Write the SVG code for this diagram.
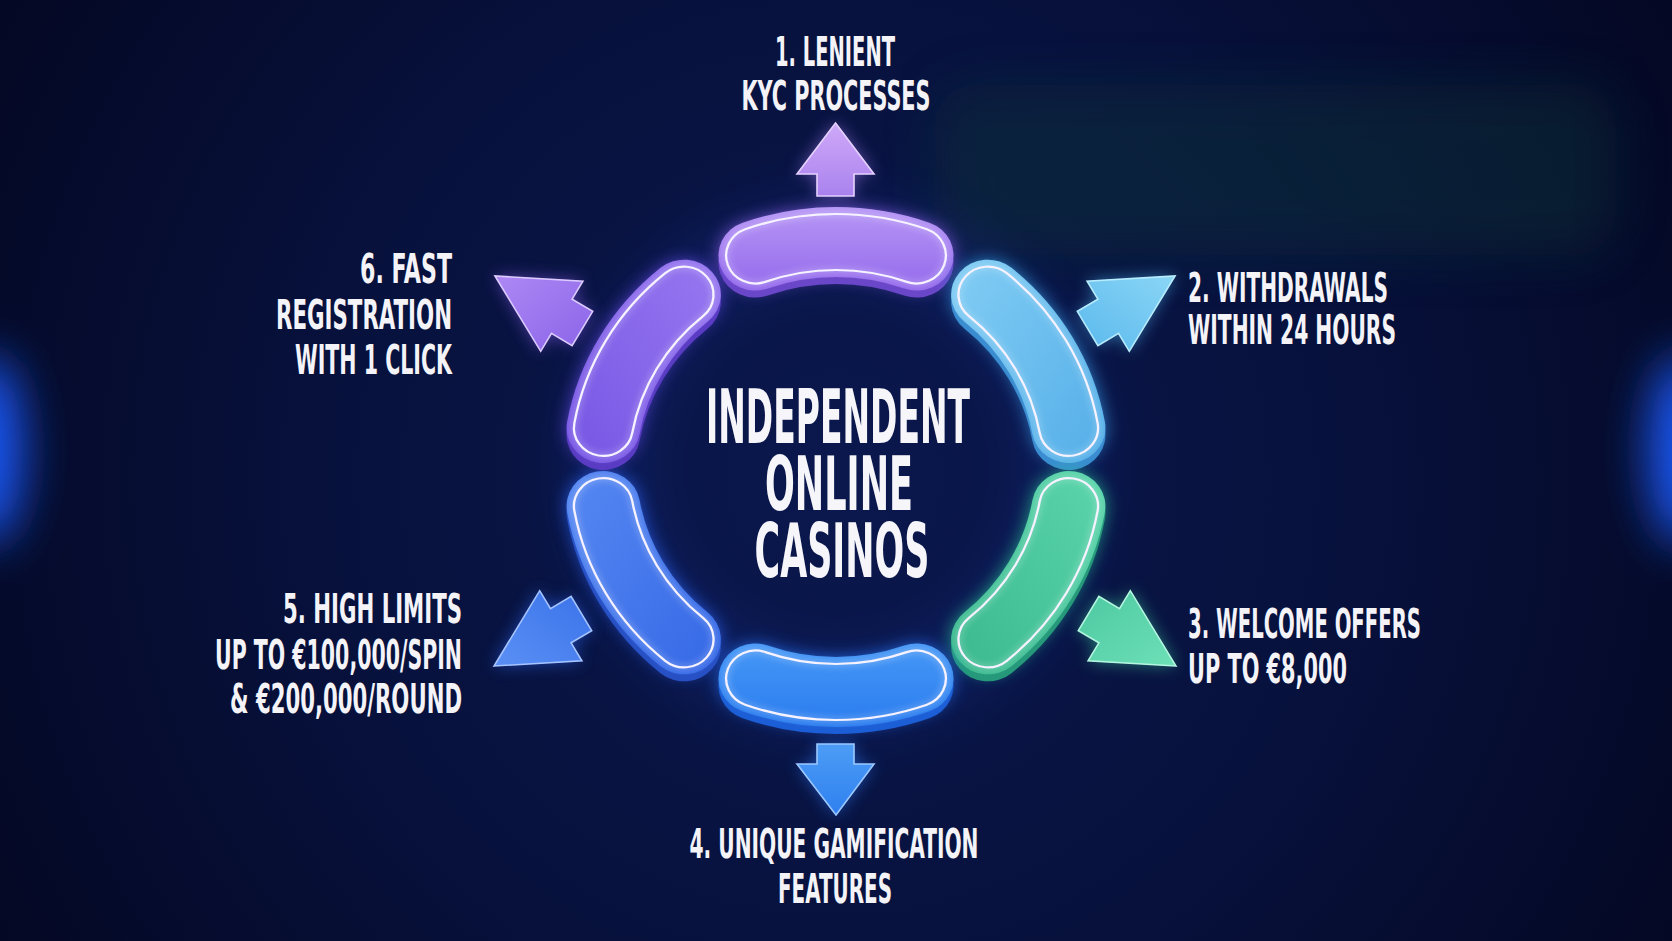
<svg xmlns="http://www.w3.org/2000/svg" xmlns:xlink="http://www.w3.org/1999/xlink" width="1672" height="941" viewBox="0 0 1672 941">
  <style>
    .lbl { font-family: "Liberation Sans Narrow", "DejaVu Sans Condensed", "Liberation Sans", sans-serif; font-weight: bold; fill: #f3f3f8; font-size: 40px; }
    .title { font-family: "Liberation Sans Narrow", "DejaVu Sans Condensed", "Liberation Sans", sans-serif; font-weight: bold; fill: #f5f5fa; font-size: 75px; }
    .edge { fill: none; stroke: #f6f2ff; stroke-width: 2.2; }
    .edgeglow { fill: none; stroke: #ffffff; stroke-width: 6; opacity: 0.22; }
    .arrow { stroke-width: 1.6; stroke-linejoin: miter; }
  </style>
  <defs>
    <radialGradient id="bg" cx="836" cy="480" r="950" gradientUnits="userSpaceOnUse">
      <stop offset="0" stop-color="#0b184e"/>
      <stop offset="0.55" stop-color="#07113c"/>
      <stop offset="1" stop-color="#040824"/>
    </radialGradient>
    <filter id="blur" x="-40%" y="-40%" width="180%" height="180%"><feGaussianBlur stdDeviation="8"/></filter>
    <filter id="blurS" x="-40%" y="-40%" width="180%" height="180%"><feGaussianBlur stdDeviation="3"/></filter>
    <filter id="blurL" x="-100%" y="-100%" width="300%" height="300%"><feGaussianBlur stdDeviation="24"/></filter>
    <filter id="blurP" x="-30%" y="-80%" width="160%" height="260%"><feGaussianBlur stdDeviation="26"/></filter>

    <linearGradient id="g1" x1="0" y1="0" x2="0" y2="1"><stop offset="0" stop-color="#b696f5"/><stop offset="1" stop-color="#946aec"/></linearGradient>
    <linearGradient id="g2" x1="0" y1="0" x2="1" y2="1"><stop offset="0" stop-color="#82cdf4"/><stop offset="1" stop-color="#54aee8"/></linearGradient>
    <linearGradient id="g3" x1="1" y1="0" x2="0" y2="1"><stop offset="0" stop-color="#5cd6ac"/><stop offset="1" stop-color="#3ab88e"/></linearGradient>
    <linearGradient id="g4" x1="0" y1="0" x2="0" y2="1"><stop offset="0" stop-color="#4798f6"/><stop offset="1" stop-color="#2a7cef"/></linearGradient>
    <linearGradient id="g5" x1="0" y1="0" x2="1" y2="1"><stop offset="0" stop-color="#5688f2"/><stop offset="1" stop-color="#3568e6"/></linearGradient>
    <linearGradient id="g6" x1="1" y1="0" x2="0" y2="1"><stop offset="0" stop-color="#9878f0"/><stop offset="1" stop-color="#7656e4"/></linearGradient>

    <linearGradient id="a1" x1="0" y1="0" x2="0" y2="1"><stop offset="0" stop-color="#cfa9f8"/><stop offset="1" stop-color="#a982ee"/></linearGradient>
    <linearGradient id="a2" x1="1" y1="0" x2="0" y2="1"><stop offset="0" stop-color="#8ad6f6"/><stop offset="1" stop-color="#5ab8ec"/></linearGradient>
    <linearGradient id="a3" x1="1" y1="1" x2="0" y2="0"><stop offset="0" stop-color="#6ee0b8"/><stop offset="1" stop-color="#4cc8a0"/></linearGradient>
    <linearGradient id="a4" x1="0" y1="0" x2="0" y2="1"><stop offset="0" stop-color="#4c9cf6"/><stop offset="1" stop-color="#2f80ef"/></linearGradient>
    <linearGradient id="a5" x1="0" y1="1" x2="1" y2="0"><stop offset="0" stop-color="#5a90f4"/><stop offset="1" stop-color="#3a72ea"/></linearGradient>
    <linearGradient id="a6" x1="0" y1="0" x2="1" y2="1"><stop offset="0" stop-color="#ad88f4"/><stop offset="1" stop-color="#8a64e8"/></linearGradient>

    <path id="p1" d="M-88.93,-244.32 A260,260 0 0 1 88.93,-244.32 A35,35 0 0 1 64.98,-178.54 A190,190 0 0 0 -64.98,-178.54 A35,35 0 0 1 -88.93,-244.32Z"/>
    <path id="w1" d="M-86.53,-237.74 A253,253 0 0 1 86.53,-237.74 A28,28 0 0 1 67.38,-185.12 A197,197 0 0 0 -67.38,-185.12 A28,28 0 0 1 -86.53,-237.74Z"/>
    <path id="p2" d="M167.13,-199.17 A260,260 0 0 1 256.05,-45.15 A35,35 0 0 1 187.11,-32.99 A190,190 0 0 0 122.13,-145.55 A35,35 0 0 1 167.13,-199.17Z"/>
    <path id="w2" d="M162.63,-193.81 A253,253 0 0 1 249.16,-43.93 A28,28 0 0 1 194.01,-34.21 A197,197 0 0 0 126.63,-150.91 A28,28 0 0 1 162.63,-193.81Z"/>
    <path id="p3" d="M256.05,45.15 A260,260 0 0 1 167.13,199.17 A35,35 0 0 1 122.13,145.55 A190,190 0 0 0 187.11,32.99 A35,35 0 0 1 256.05,45.15Z"/>
    <path id="w3" d="M249.16,43.93 A253,253 0 0 1 162.63,193.81 A28,28 0 0 1 126.63,150.91 A197,197 0 0 0 194.01,34.21 A28,28 0 0 1 249.16,43.93Z"/>
    <path id="p4" d="M88.93,244.32 A260,260 0 0 1 -88.93,244.32 A35,35 0 0 1 -64.98,178.54 A190,190 0 0 0 64.98,178.54 A35,35 0 0 1 88.93,244.32Z"/>
    <path id="w4" d="M86.53,237.74 A253,253 0 0 1 -86.53,237.74 A28,28 0 0 1 -67.38,185.12 A197,197 0 0 0 67.38,185.12 A28,28 0 0 1 86.53,237.74Z"/>
    <path id="p5" d="M-167.13,199.17 A260,260 0 0 1 -256.05,45.15 A35,35 0 0 1 -187.11,32.99 A190,190 0 0 0 -122.13,145.55 A35,35 0 0 1 -167.13,199.17Z"/>
    <path id="w5" d="M-162.63,193.81 A253,253 0 0 1 -249.16,43.93 A28,28 0 0 1 -194.01,34.21 A197,197 0 0 0 -126.63,150.91 A28,28 0 0 1 -162.63,193.81Z"/>
    <path id="p6" d="M-256.05,-45.15 A260,260 0 0 1 -167.13,-199.17 A35,35 0 0 1 -122.13,-145.55 A190,190 0 0 0 -187.11,-32.99 A35,35 0 0 1 -256.05,-45.15Z"/>
    <path id="w6" d="M-249.16,-43.93 A253,253 0 0 1 -162.63,-193.81 A28,28 0 0 1 -126.63,-150.91 A197,197 0 0 0 -194.01,-34.21 A28,28 0 0 1 -249.16,-43.93Z"/>
  </defs>

  <!-- background -->
  <rect x="0" y="0" width="1672" height="941" fill="url(#bg)"/>
  <rect x="935" y="85" width="680" height="170" rx="40" fill="#0a3438" opacity="0.42" filter="url(#blurP)"/>
  <ellipse cx="-12" cy="450" rx="34" ry="95" fill="#1e5cff" filter="url(#blurL)"/>
  <ellipse cx="1684" cy="450" rx="34" ry="95" fill="#1e5cff" filter="url(#blurL)"/>

  <!-- ring glow -->
  <circle cx="836" cy="467" r="225" fill="none" stroke="#2a50e0" stroke-width="90" opacity="0.12" filter="url(#blurL)"/>

  <!-- connectors (arrows) -->
  <g id="connectors">
    <polygon points="835.5,123 874,174 854,174 854,196 817,196 817,174 797,174" fill="#a27af0" opacity="0.55" filter="url(#blur)"/>
    <polygon class="arrow" points="835.5,123 874,174 854,174 854,196 817,196 817,174 797,174" fill="url(#a1)" stroke="#e6d2ff"/>

    <polygon points="1175,276 1129.3,351.3 1118.5,333.3 1097.9,345.6 1077.3,311.4 1097.9,299.1 1087.1,281.1" fill="#4fb4f0" opacity="0.55" filter="url(#blur)"/>
    <polygon class="arrow" points="1175,276 1129.3,351.3 1118.5,333.3 1097.9,345.6 1077.3,311.4 1097.9,299.1 1087.1,281.1" fill="url(#a2)" stroke="#b8ecff"/>

    <polygon points="1176,666 1088.1,660.9 1098.9,642.9 1078.3,630.6 1098.9,596.4 1119.5,608.7 1130.3,590.7" fill="#3fd0a0" opacity="0.55" filter="url(#blur)"/>
    <polygon class="arrow" points="1176,666 1088.1,660.9 1098.9,642.9 1078.3,630.6 1098.9,596.4 1119.5,608.7 1130.3,590.7" fill="url(#a3)" stroke="#b4f6e0"/>

    <polygon points="836,815 874,764 854,764 854,744 817,744 817,764 797,764" fill="#2a7cff" opacity="0.55" filter="url(#blur)"/>
    <polygon class="arrow" points="836,815 874,764 854,764 854,744 817,744 817,764 797,764" fill="url(#a4)" stroke="#9cc8ff"/>

    <polygon points="494,666 581.9,660.9 571.1,642.9 591.7,630.6 571.1,596.4 550.5,608.7 539.7,590.7" fill="#2f6cff" opacity="0.55" filter="url(#blur)"/>
    <polygon class="arrow" points="494,666 581.9,660.9 571.1,642.9 591.7,630.6 571.1,596.4 550.5,608.7 539.7,590.7" fill="url(#a5)" stroke="#a6c4ff"/>

    <polygon points="495,276 540.7,351.3 551.5,333.3 572.1,345.6 592.7,311.4 572.1,299.1 582.9,281.1" fill="#8a5cf0" opacity="0.55" filter="url(#blur)"/>
    <polygon class="arrow" points="495,276 540.7,351.3 551.5,333.3 572.1,345.6 592.7,311.4 572.1,299.1 582.9,281.1" fill="url(#a6)" stroke="#dccbff"/>
  </g>

  <!-- node 1 -->
  <g id="node-1">
    <g transform="translate(836,467) scale(1.05,1)">
      <use href="#p1" fill="#9060f0" opacity="0.7" filter="url(#blur)"/>
      <use href="#p1" fill="#6a46c8" y="7"/>
      <use href="#p1" fill="url(#g1)"/>
      <use href="#w1" class="edgeglow" filter="url(#blurS)"/>
      <use href="#w1" class="edge"/>
    </g>
    <text class="lbl" x="835" y="66" text-anchor="middle" textLength="120" lengthAdjust="spacingAndGlyphs">1. LENIENT</text>
    <text class="lbl" x="836" y="110" text-anchor="middle" textLength="189" lengthAdjust="spacingAndGlyphs">KYC PROCESSES</text>
  </g>

  <!-- node 2 -->
  <g id="node-2">
    <g transform="translate(836,467) scale(1.05,1)">
      <use href="#p2" fill="#3aa8f0" opacity="0.7" filter="url(#blur)"/>
      <use href="#p2" fill="#3a8cd0" y="7"/>
      <use href="#p2" fill="url(#g2)"/>
      <use href="#w2" class="edgeglow" filter="url(#blurS)"/>
      <use href="#w2" class="edge"/>
    </g>
    <text class="lbl" x="1188" y="302" textLength="200" lengthAdjust="spacingAndGlyphs">2. WITHDRAWALS</text>
    <text class="lbl" x="1188" y="344" textLength="208" lengthAdjust="spacingAndGlyphs">WITHIN 24 HOURS</text>
  </g>

  <!-- node 3 -->
  <g id="node-3">
    <g transform="translate(836,467) scale(1.05,1)">
      <use href="#p3" fill="#28c898" opacity="0.7" filter="url(#blur)"/>
      <use href="#p3" fill="#25997a" y="7"/>
      <use href="#p3" fill="url(#g3)"/>
      <use href="#w3" class="edgeglow" filter="url(#blurS)"/>
      <use href="#w3" class="edge"/>
    </g>
    <text class="lbl" x="1188" y="638" textLength="233" lengthAdjust="spacingAndGlyphs">3. WELCOME OFFERS</text>
    <text class="lbl" x="1188" y="683" textLength="159" lengthAdjust="spacingAndGlyphs">UP TO €8,000</text>
  </g>

  <!-- node 4 -->
  <g id="node-4">
    <g transform="translate(836,467) scale(1.05,1)">
      <use href="#p4" fill="#2878ff" opacity="0.7" filter="url(#blur)"/>
      <use href="#p4" fill="#1c5ed6" y="7"/>
      <use href="#p4" fill="url(#g4)"/>
      <use href="#w4" class="edgeglow" filter="url(#blurS)"/>
      <use href="#w4" class="edge"/>
    </g>
    <text class="lbl" x="834" y="858" text-anchor="middle" textLength="289" lengthAdjust="spacingAndGlyphs">4. UNIQUE GAMIFICATION</text>
    <text class="lbl" x="835" y="903" text-anchor="middle" textLength="114" lengthAdjust="spacingAndGlyphs">FEATURES</text>
  </g>

  <!-- node 5 -->
  <g id="node-5">
    <g transform="translate(836,467) scale(1.05,1)">
      <use href="#p5" fill="#2c66ff" opacity="0.7" filter="url(#blur)"/>
      <use href="#p5" fill="#2650c4" y="7"/>
      <use href="#p5" fill="url(#g5)"/>
      <use href="#w5" class="edgeglow" filter="url(#blurS)"/>
      <use href="#w5" class="edge"/>
    </g>
    <text class="lbl" x="462" y="623" text-anchor="end" textLength="179" lengthAdjust="spacingAndGlyphs">5. HIGH LIMITS</text>
    <text class="lbl" x="462" y="669" text-anchor="end" textLength="247" lengthAdjust="spacingAndGlyphs">UP TO €100,000/SPIN</text>
    <text class="lbl" x="462" y="713" text-anchor="end" textLength="232" lengthAdjust="spacingAndGlyphs">&amp; €200,000/ROUND</text>
  </g>

  <!-- node 6 -->
  <g id="node-6">
    <g transform="translate(836,467) scale(1.05,1)">
      <use href="#p6" fill="#6a4cf0" opacity="0.7" filter="url(#blur)"/>
      <use href="#p6" fill="#5a3cc4" y="7"/>
      <use href="#p6" fill="url(#g6)"/>
      <use href="#w6" class="edgeglow" filter="url(#blurS)"/>
      <use href="#w6" class="edge"/>
    </g>
    <text class="lbl" x="452" y="283" text-anchor="end" textLength="92" lengthAdjust="spacingAndGlyphs">6. FAST</text>
    <text class="lbl" x="452" y="329" text-anchor="end" textLength="176" lengthAdjust="spacingAndGlyphs">REGISTRATION</text>
    <text class="lbl" x="452" y="374" text-anchor="end" textLength="157" lengthAdjust="spacingAndGlyphs">WITH 1 CLICK</text>
  </g>

  <!-- center -->
  <g id="node-center">
    <text class="title" x="838" y="443" text-anchor="middle" textLength="264" lengthAdjust="spacingAndGlyphs">INDEPENDENT</text>
    <text class="title" x="839" y="510" text-anchor="middle" textLength="148" lengthAdjust="spacingAndGlyphs">ONLINE</text>
    <text class="title" x="842" y="577" text-anchor="middle" textLength="175" lengthAdjust="spacingAndGlyphs">CASINOS</text>
  </g>
</svg>
